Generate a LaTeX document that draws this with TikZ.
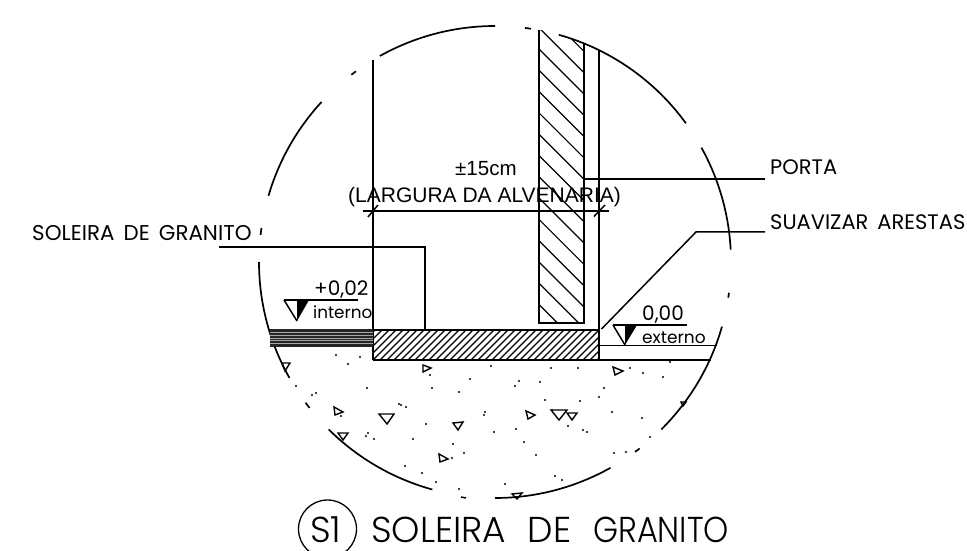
\documentclass[tikz,border=0pt]{standalone}
\usepackage{fontspec}
\setmainfont{Liberation Sans}
\newfontfamily\cadfont[WordSpace=2.2]{Poppins Light}
\newfontfamily\cadsmall[WordSpace=1.6]{Poppins}
\newcommand{\carc}[2]{\draw[arcline] plot[domain=#1:#2,samples=60,smooth] ({495+236*cos(\x)},{262+236*sin(\x)});}
\newcommand{\tsize}[1]{\fontsize{#1bp}{#1bp}\selectfont}
\tikzset{
  wall/.style={line width=1.5bp,black},
  arcline/.style={line width=1.7bp,black},
  thinline/.style={line width=1.2bp,black},
  agg/.style={line width=1.4bp,black,line join=miter},
  lab/.style={inner sep=0pt,anchor=base west,text=black},
}
\begin{document}
\begin{tikzpicture}[x=1bp,y=-1bp]
\clip (0,0) rectangle (967,551);
\fill[white] (0,0) rectangle (967,551);
% detail circle
\carc{240.8}{270}\carc{277.3}{278.8}\carc{285.7}{324}\carc{331}{357}\carc{367.5}{368.7}
\carc{15.9}{45.2}\carc{52.2}{53.6}\carc{60.7}{90}\carc{105.4}{134.8}\carc{141.8}{143.4}
\carc{150.6}{180}\carc{186.6}{188.3}\carc{196.3}{222.7}\carc{232.5}{233.9}
% wall hatch
\begin{scope}
\clip (539,30) -- (539,323) -- (584,323) -- (584,44) -- (573,39) -- (541,30) -- cycle;
\foreach \k in {-3,...,12}{
  \draw[thinline] (539,{49+21.3*\k}) -- (584,{94+21.3*\k});
}
\end{scope}
\draw[wall] (539,30) -- (539,323) -- (584,323) -- (584,44);
\draw[wall] (373,60) -- (373,360);
\draw[wall] (599,51) -- (599,360);
% slab
\begin{scope}
\clip (373,330) rectangle (598,360);
\foreach \k in {0,...,36}{
  \draw[thinline] ({345+7*\k},360) -- ({375+7*\k},330);
}
\end{scope}
\draw[thinline] (373,330) -- (598,330);
\draw[wall] (373,360) -- (599,360);
% finish layers
\fill[black!85] (270,329.5) rectangle (373,346.5);
\foreach \yy in {332.3,335.1,337.9,340.7,343.5}{
  \draw[line width=0.6bp,black!35] (270,\yy) -- (373,\yy);
}
\draw[thinline] (599,345.5) -- (717,345.5);
\draw[wall] (599,360) -- (711,360);
% leaders
\coordinate (solA) at (219,247);
\coordinate (solB) at (425,247);
\coordinate (solC) at (425,330);
\draw[wall] (solA) -- (solB) -- (solC);
\coordinate (porA) at (584,179);
\coordinate (porB) at (765,179);
\draw[wall] (porA) -- (porB);
\coordinate (suaA) at (601.5,329);
\coordinate (suaB) at (696,232);
\coordinate (suaC) at (765,232);
\draw[wall] (suaA) -- (suaB) -- (suaC);
% dimension
\coordinate (dimA) at (363,211);
\coordinate (dimB) at (609,211);
\draw[wall] (dimA) -- (dimB);
\draw[wall] (368,217) -- (378,205);
\draw[wall] (594,216.5) -- (605,205);
% elevation marks
\coordinate (mkA) at (284,300);
\coordinate (mkB) at (358,300);
\draw[wall] (mkA) -- (mkB);
\draw[wall] (284,300) -- (297,321);
\fill[black] (297,300) -- (309,300) -- (297,321) -- cycle;
\coordinate (mkC) at (613,325);
\coordinate (mkD) at (687,325);
\draw[wall] (mkC) -- (mkD);
\draw[wall] (613,325) -- (625,345);
\fill[black] (625,325) -- (637,325) -- (625,345) -- cycle;
% aggregate
\foreach \a/\b/\c/\d/\e/\f in {282/363/290/363/285/371,423/365/431/368/423/372,613/367/623/371/615/375,334/407/343/412/335/415,379/414/394/414/387/424,453/423/463/422/458/430,338/433/348/433/343/440,439/454/448/459/440/462,526/411/535/415/528/419,551/410/567/410/559/420,567/413/577/413/572/420,512/494/522/493/517/499,681/402/686/402/683/406}{
  \draw[agg] (\a,\b) -- (\c,\d) -- (\e,\f) -- cycle;
}
\foreach \px/\py in {336/355,348/364,360/357,296/386,312/395,316/393,367/388,430/375,470/379,432/388,459/392,491/366,551/368,578/368,519/381,515/386,540/382,604/388,599/397,630/368,643/373,663/377,670/362,399/404,401/405,406/407,341/416,426/424,484/415,485/412,494/432,368/433,366/436,374/439,413/439,453/444,464/453,452/458,405/466,422/473,436/482,459/489,516/429,545/400,580/401,612/412,642/418,568/426,583/430,587/432,524/442,536/455,650/437,614/453,626/452,555/476,562/480,505/484,552/410}{
  \fill[black] (\px,\py) circle (1.1bp);
}
\draw[wall] (461,497) -- (466,498);
% texts
\node[lab] (dimtop) at (455,176) {\tsize{20.5}±15cm};
\node[lab] (dimlow) at (348,202.7) {\tsize{21}(LARGURA DA ALVENARIA)};
\node[lab] (lsol) at (32,240.5) {\cadsmall\tsize{21.4}SOLEIRA DE GRANITO};
\node[lab] (lpor) at (770,175) {\cadsmall\tsize{21}PORTA};
\node[lab] (lsua) at (770,230) {\cadsmall\tsize{21}SUAVIZAR ARESTAS};
\node[lab] (lmai) at (314,296) {\cadsmall\tsize{20}+0,02};
\node[lab] (lint) at (313,319) {\cadsmall\tsize{16.8}interno};
\node[lab] (lzer) at (642,321) {\cadsmall\tsize{20}0,00};
\node[lab] (lext) at (642,344) {\cadsmall\tsize{17}externo};
\node[draw,circle,line width=1.3bp,minimum size=58bp,inner sep=0pt] (s1) at (327.5,529) {};
\node[lab] (st1) at (310,542) {\cadfont\tsize{36}S1};
\node[lab] (title) at (371,542) {\cadfont\tsize{36}SOLEIRA DE \scalebox{0.89}[1]{GRANITO}};
\end{tikzpicture}
\end{document}
